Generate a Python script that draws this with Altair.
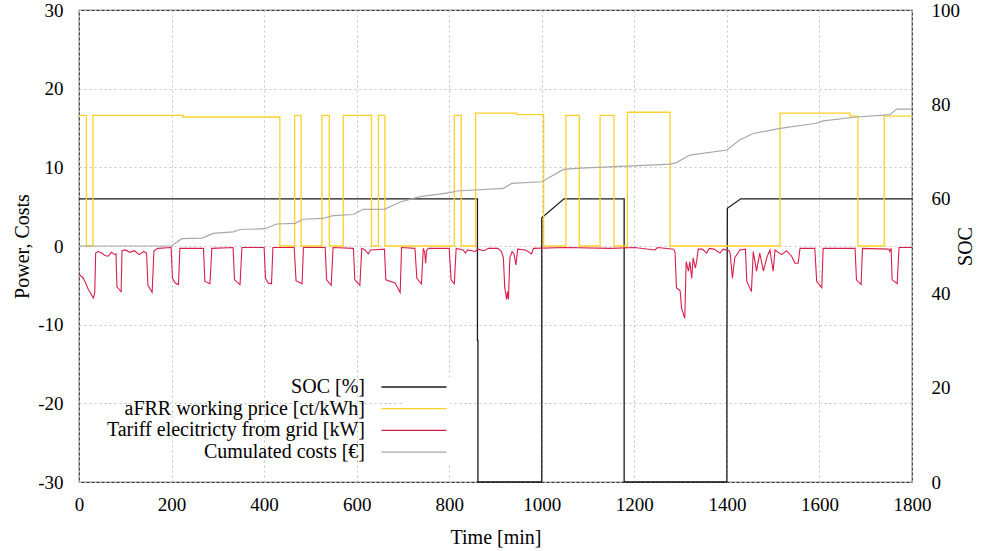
import altair as alt
import pandas as pd

# ---- data ----
SOC_T = [0, 861, 861, 862, 862, 1000, 1000, 1048, 1178, 1178, 1400, 1400, 1401, 1430, 1800]
SOC_V = [60, 60, 30, 30, 0, 0, 56, 60, 60, 0, 0, 29, 58, 60, 60]

PRICE_T = [0, 16, 30, 225, 434, 466, 480, 525, 541, 571, 632, 647, 661, 811, 826, 857, 946, 1004,
           1052, 1081, 1126, 1156, 1185, 1277, 1515, 1666, 1683, 1740, 1800]
PRICE_V = [16.6, 0, 16.6, 16.4, 0, 16.6, 0, 16.6, 0, 16.6, 0, 16.6, 0, 16.6, 0, 16.9, 16.7, 0,
           16.6, 0, 16.6, 0, 17.0, 0, 16.9, 16.5, 0, 16.5, 16.5]

GRID_T = [0, 8, 13, 20, 27, 31, 34, 36, 42, 49, 56, 63, 70, 78, 80, 82, 91, 93, 100, 110, 120, 130,
          140, 146, 149, 158, 162, 170, 199, 202, 208, 215, 218, 269, 272, 283, 287, 333, 336, 348,
          352, 400, 403, 409, 416, 419, 465, 469, 482, 485, 532, 535, 545, 549, 593, 596, 607, 611,
          618, 625, 630, 660, 663, 683, 694, 697, 726, 730, 740, 744, 747, 749, 751, 755, 800, 804,
          811, 815, 830, 835, 840, 856, 862, 875, 885, 905, 913, 917, 920, 924, 926, 928, 931, 936,
          940, 944, 948, 965, 978, 982, 1050, 1150, 1200, 1245, 1250, 1285, 1288, 1291, 1299, 1302,
          1309, 1312, 1317, 1320, 1324, 1327, 1332, 1335, 1338, 1347, 1356, 1362, 1372, 1385, 1392,
          1405, 1407, 1412, 1417, 1428, 1440, 1443, 1453, 1457, 1464, 1471, 1479, 1486, 1493, 1500,
          1504, 1518, 1529, 1540, 1547, 1554, 1558, 1590, 1594, 1605, 1608, 1677, 1680, 1690, 1693,
          1750, 1752, 1755, 1757, 1768, 1772, 1800]
GRID_V = [-3.6, -4.0, -4.5, -5.5, -6.2, -6.6, -6.0, -0.9, -0.7, -0.9, -1.2, -1.3, -0.8, -1.1, -1.0,
          -5.2, -5.8, -0.6, -0.5, -0.8, -0.6, -1.1, -0.7, -0.9, -5.0, -5.9, -0.6, -0.3, -0.2, -4.1,
          -4.7, -4.9, -0.3, -0.3, -4.5, -4.8, -0.3, -0.2, -4.3, -4.9, -0.2, -0.2, -4.1, -4.7, -4.8,
          -0.2, -0.2, -4.4, -4.8, -0.2, -0.2, -4.3, -5.0, -0.2, -0.3, -4.3, -5.0, -0.3, -0.5, -1.0,
          -0.5, -0.4, -4.3, -4.7, -5.9, -0.2, -0.3, -4.1, -4.8, -0.3, -0.8, -2.2, -0.6, -0.3, -0.3,
          -4.3, -4.8, -0.3, -0.5, -0.9, -0.5, -0.7, -0.4, -0.6, -0.3, -0.3, -0.7, -1.5, -5.3, -6.8,
          -5.8, -6.8, -1.5, -0.7, -1.0, -2.4, -0.4, -0.5, -1.0, -0.3, -0.2, -0.3, -0.2, -0.5, -0.2,
          -0.4, -0.8, -5.3, -5.7, -7.9, -9.2, -2.0, -3.2, -2.0, -4.1, -1.5, -2.8, -1.8, -0.4, -0.4,
          -0.9, -0.3, -0.4, -0.9, -0.4, -0.6, -0.9, -4.1, -1.5, -0.5, -0.4, -4.5, -5.8, -0.7, -3.2,
          -0.9, -3.2, -1.5, -0.5, -3.2, -0.5, -1.1, -0.6, -1.3, -2.2, -2.2, -0.3, -0.3, -4.5, -5.3,
          -0.3, -0.3, -4.3, -4.9, -0.3, -0.4, -0.7, -0.3, -4.3, -4.8, -0.2, -0.2]

COST_T = [0, 200, 222, 266, 290, 333, 348, 402, 427, 467, 485, 526, 549, 593, 614, 661, 694, 737, 802,
          816, 917, 935, 1000, 1047, 1083, 1234, 1277, 1291, 1320, 1400, 1428, 1457, 1515, 1594, 1608,
          1680, 1752, 1767, 1800]
COST_V = [0, 0, 0.93, 1.0, 1.6, 1.8, 2.1, 2.2, 2.8, 2.88, 3.4, 3.5, 3.85, 4.0, 4.66, 4.7, 5.6, 6.27,
          6.78, 6.99, 7.33, 7.96, 8.17, 9.74, 9.9, 10.29, 10.4, 10.6, 11.56, 12.2, 13.5, 14.3, 14.95,
          15.6, 15.9, 16.4, 16.7, 17.4, 17.4]

SERIES = ["SOC [%]", "aFRR working price [ct/kWh]", "Tariff elecitricty from grid [kW]",
          "Cumulated costs [€]"]
COLORS = ["#1a1a1a", "#FFD02A", "#D81E4A", "#a8a8a8"]

X_TICKS = list(range(0, 1801, 200))
Y_TICKS = list(range(-30, 31, 10))
Y2_TICKS = list(range(0, 101, 20))


def frame(ts, vs, name):
    return pd.DataFrame({"t": ts, "v": vs, "series": name, "i": list(range(len(ts)))})


FONT = "Liberation Serif"
MINUS = "datum.value < 0 ? '-' + abs(datum.value) : '' + datum.value"

x_enc = alt.X("t:Q", scale=alt.Scale(domain=[0, 1800], nice=False),
              axis=alt.Axis(values=X_TICKS, title="Time [min]", grid=True, gridDash=[2, 3],
                            gridColor="#c4c4c4", ticks=False, labelPadding=13, titlePadding=13,
                            labelExpr="'' + datum.value", domain=False))

# legend: text on the left, long line sample on the right (gnuplot style)
legend = alt.Legend(orient="none", legendX=325, legendY=367, title=None,
                    symbolType="M-5,0H5", symbolSize=169, symbolStrokeWidth=1.3,
                    labelAlign="right", labelOffset={"expr": "-59"},
                    labelLimit=400, labelFontSize=20, labelFont=FONT, labelColor="black",
                    rowPadding=1.7, fillColor="white")
color = alt.Color("series:N", scale=alt.Scale(domain=SERIES, range=COLORS), legend=legend)

y_left = alt.Y("v:Q", scale=alt.Scale(domain=[-30, 30], nice=False),
               axis=alt.Axis(values=Y_TICKS, title="Power, Costs", orient="left", grid=True,
                             gridDash=[2, 3], gridColor="#c4c4c4", ticks=False, labelPadding=16,
                             titlePadding=5, labelExpr=MINUS, domain=False))

soc = alt.Chart(frame(SOC_T, SOC_V, SERIES[0])).mark_line(strokeWidth=1.3).encode(
    x=x_enc,
    y=alt.Y("v:Q", scale=alt.Scale(domain=[0, 100], nice=False),
            axis=alt.Axis(values=Y2_TICKS, title="SOC", orient="right", grid=False,
                          ticks=False, labelPadding=19, titlePadding=16, titleAngle=270,
                          domain=False)),
    color=color,
    order="i:Q",
)

price = alt.Chart(frame(PRICE_T, PRICE_V, SERIES[1])).mark_line(
    strokeWidth=1.3, interpolate="step-after").encode(
    x=x_enc, y=y_left, color=color, order="i:Q")

grid_el = alt.Chart(frame(GRID_T, GRID_V, SERIES[2])).mark_line(strokeWidth=1.1).encode(
    x=x_enc, y=y_left, color=color, order="i:Q")

cost = alt.Chart(frame(COST_T, COST_V, SERIES[3])).mark_line(strokeWidth=1.2).encode(
    x=x_enc, y=y_left, color=color, order="i:Q")

left = alt.layer(price, grid_el, cost)

chart = alt.layer(soc, left).resolve_scale(y="independent").properties(
    width=833, height=472,
    background="white",
    autosize=alt.AutoSizeParams(type="none"),
    padding={"left": 79, "top": 10, "right": 74, "bottom": 69},
).configure_view(stroke="#333333", strokeWidth=1.2).configure_axis(
    labelFont=FONT, titleFont=FONT, labelFontSize=19, titleFontSize=20, labelColor="black",
    titleColor="black", titleFontWeight="normal", labelFlush=False,
)

chart.save("out.html", embed_options={"renderer": "svg", "actions": False})
